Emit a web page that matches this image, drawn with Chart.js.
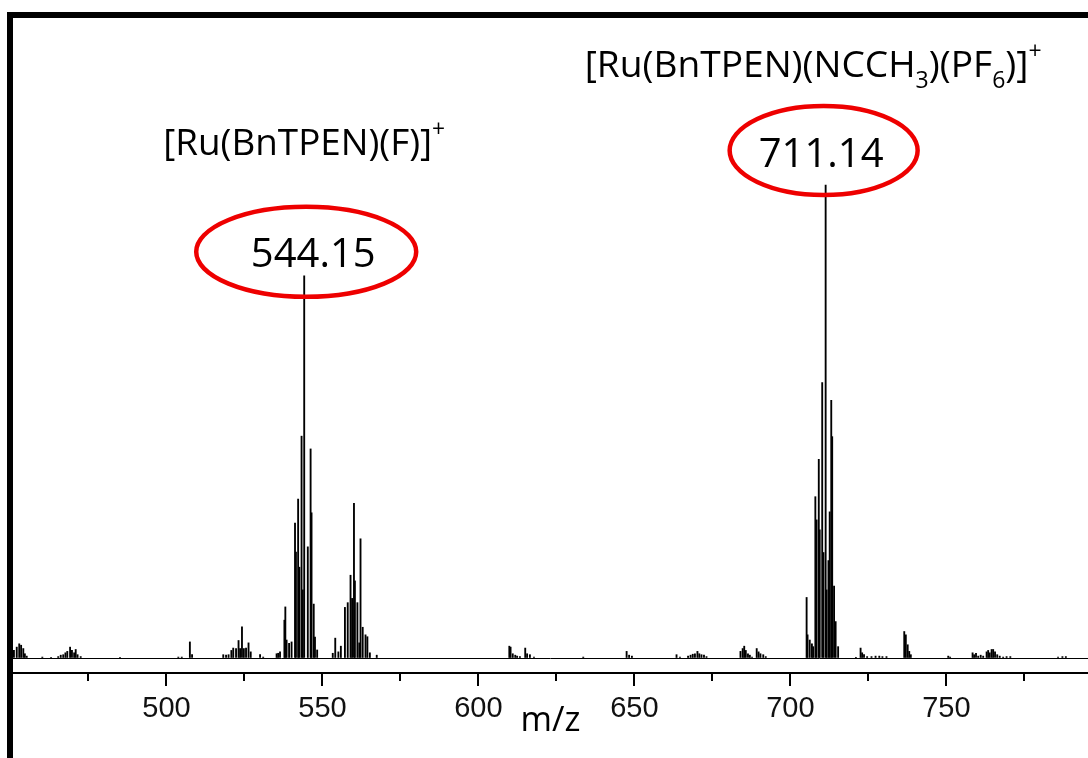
<!DOCTYPE html>
<html>
<head>
<meta charset="utf-8">
<script src="https://cdn.jsdelivr.net/npm/chart.js@4.4.1/dist/chart.umd.min.js"></script>
<style>
  html, body { margin: 0; padding: 0; background: #fff; }
  canvas { display: block; }
</style>
</head>
<body>
<canvas id="ms" width="1088" height="758"></canvas>
<script>
// ESI-MS of the Ru complex — relative intensity, base peak (711) = 100
// [m/z, intensity], grouped by region

const NOISE_LOW = [
  [451.1, 1.6], [452.0, 2.3], [452.8, 3.0], [453.4, 2.7], [454.1, 2.0], [454.6, 0.9], [455.2, 0.4],
  [460.2, 0.2], [463.0, 0.15], [465.3, 0.3], [466.1, 0.6], [466.9, 0.7], [467.6, 1.1], [468.2, 1.4],
  [469.1, 2.3], [469.7, 1.6], [470.4, 1.1], [470.9, 1.8], [471.5, 0.7], [472.5, 0.3], [485.1, 0.15],
  [503.8, 0.2], [504.9, 0.2], [507.5, 3.4], [508.2, 0.7],
];
const CLUSTER_524 = [
  [518.2, 0.7], [519.1, 0.6], [519.9, 0.7], [520.8, 1.6], [521.4, 2.1], [522.3, 2.0], [523.1, 3.7],
  [523.6, 2.0], [524.2, 6.6], [524.8, 2.0], [525.5, 2.1], [526.3, 3.2], [527.0, 1.3], [530.0, 0.7],
  [531.0, 0.2], [535.3, 0.9],
];
const CLUSTER_544 = [
  [535.8, 1.0], [536.4, 1.3], [537.8, 8.0], [538.1, 10.8], [538.5, 3.8], [539.3, 3.1], [540.1, 3.4],
  [541.2, 28.5], [541.5, 22.4], [542.2, 33.6], [542.6, 19.2], [543.3, 46.9], [543.7, 14.4],
  [544.15, 80.8], [545.3, 23.5], [546.2, 44.2], [546.5, 30.7], [547.2, 11.4], [547.6, 4.4], [548.3, 1.7],
];
const CLUSTER_560 = [
  [553.3, 1.0], [554.1, 4.2], [555.1, 1.3], [555.9, 2.5], [557.2, 10.7], [558.1, 11.7], [559.0, 17.5],
  [559.5, 12.6], [560.1, 32.7], [560.4, 16.3], [561.2, 11.7], [561.8, 3.2], [562.2, 25.2], [562.9, 6.5],
  [563.8, 4.9], [564.4, 4.5], [565.2, 1.1], [567.4, 0.6],
];
const NOISE_MID = [
  [609.9, 2.5], [610.3, 2.3], [611.0, 0.9], [611.8, 0.6], [612.4, 0.4], [613.3, 0.3], [615.0, 2.1],
  [615.6, 0.9], [616.5, 0.7], [617.8, 0.2], [633.6, 0.2], [647.5, 1.4], [648.3, 0.6], [649.2, 0.4],
  [663.5, 0.7], [664.6, 0.2], [667.2, 0.4], [668.0, 0.6], [668.7, 0.8], [669.4, 0.9], [670.2, 1.4],
  [670.8, 0.9], [671.5, 0.7], [672.3, 0.6], [673.1, 0.3], [684.0, 1.4], [684.7, 2.0], [685.2, 2.5],
  [685.7, 1.6], [686.4, 0.9], [687.0, 0.6], [687.7, 0.2], [689.2, 2.0], [689.8, 1.3], [690.4, 0.9],
  [691.3, 0.7], [692.1, 0.3],
];
const CLUSTER_711 = [
  [705.2, 12.8], [705.5, 4.9], [706.2, 3.8], [706.9, 3.0], [707.3, 2.4], [708.0, 34.1], [708.4, 29.2],
  [709.1, 42.0], [709.4, 27.1], [710.2, 58.2], [710.6, 22.3], [711.3, 100], [711.6, 14.4], [712.2, 20.6],
  [712.6, 30.9], [713.1, 54.5], [713.4, 46.8], [714.0, 15.2], [714.5, 7.7], [715.3, 2.4],
];
const NOISE_HIGH = [
  [721.0, 0.15], [722.5, 2.1], [723.0, 1.1], [723.6, 0.7], [724.6, 0.3], [726.0, 0.3], [727.3, 0.4],
  [728.5, 0.4], [729.5, 0.3], [730.8, 0.3], [736.5, 5.6], [737.0, 4.9], [737.6, 2.8], [738.1, 1.4],
  [738.6, 0.7], [750.6, 0.4], [751.2, 0.2], [758.4, 1.1], [758.9, 0.7], [759.5, 1.0], [760.2, 0.4],
  [761.0, 0.6], [761.8, 0.4], [762.9, 1.3], [763.4, 1.6], [763.9, 1.1], [764.5, 1.8], [765.0, 1.8],
  [765.6, 1.3], [766.3, 0.7], [767.1, 0.4], [768.2, 0.2], [769.3, 0.3], [770.5, 0.3], [785.8, 0.2],
  [787.2, 0.3], [788.3, 0.3],
];

const X_TICKS = [500, 550, 600, 650, 700, 750];
const X_MINOR = [475, 525, 575, 625, 675, 725, 775];
const X_MIN = 450.8, X_MAX = 795.4;
const Y_MIN = -3.17, Y_MAX = 135.3;

// peak labels
const LABELS = [
  {
    mz: 544.15, value: '544.15',
    formula: [{ t: '[Ru(BnTPEN)(F)]' }, { t: '+', k: 'sup' }],
    // offsets from the peak apex, in px
    ell: { dx: 2, dy: -24, rx: 110, ry: 45 }, val: { dx: 9, dy: -9 },
    form: { dx: 0, dy: -121, w: 282 },
  },
  {
    mz: 711.3, value: '711.14',
    formula: [{ t: '[Ru(BnTPEN)(NCCH' }, { t: '3', k: 'sub' }, { t: ')(PF' }, { t: '6', k: 'sub' }, { t: ')]' }, { t: '+', k: 'sup' }],
    ell: { dx: -2, dy: -34.5, rx: 94, ry: 44.5 }, val: { dx: -4.5, dy: -18 },
    form: { dx: -12.5, dy: -108, w: 457 },
  },
];

const PEAKS = [].concat(NOISE_LOW, CLUSTER_524, CLUSTER_544, CLUSTER_560, NOISE_MID, CLUSTER_711, NOISE_HIGH);
const TEXT_FONT = '"Open Sans", "Noto Sans", sans-serif';

// ─── rich text (sub / superscript) ──────────────────────────
function runFont(size, k) {
  const s = k ? size * 0.62 : size;
  return `${s}px ${TEXT_FONT}`;
}
function richWidth(ctx, runs, size) {
  return runs.reduce((w, r) => { ctx.font = runFont(size, r.k); return w + ctx.measureText(r.t).width; }, 0);
}
function drawRich(ctx, runs, size, cx, baseline, targetW) {
  if (targetW) size = size * targetW / richWidth(ctx, runs, size);
  let x = cx - richWidth(ctx, runs, size) / 2;
  ctx.textAlign = 'left';
  ctx.textBaseline = 'alphabetic';
  runs.forEach(r => {
    ctx.font = runFont(size, r.k);
    const dy = r.k === 'sub' ? size * 0.3 : r.k === 'sup' ? -size * 0.48 : 0;
    ctx.fillText(r.t, x, baseline + dy);
    x += ctx.measureText(r.t).width;
  });
}

// ─── plugins ────────────────────────────────────────────────
// frame (left + top) and the major/minor tick marks under the axis
const framePlugin = {
  id: 'frame',
  afterDraw(chart) {
    const { ctx, chartArea: a, width, height, scales: { x } } = chart;
    ctx.save();
    ctx.fillStyle = '#000';
    ctx.fillRect(a.left - 6, a.top - 6, 6, height - a.top + 6);
    ctx.fillRect(a.left - 6, a.top - 6, width - a.left + 6, 6);
    ctx.strokeStyle = '#000';
    ctx.lineWidth = 2;
    const tick = (v, len) => {
      const px = Math.round(x.getPixelForValue(v));
      ctx.beginPath();
      ctx.moveTo(px, a.bottom);
      ctx.lineTo(px, a.bottom + len);
      ctx.stroke();
    };
    X_TICKS.forEach(v => tick(v, 13));
    X_MINOR.forEach(v => tick(v, 8));
    ctx.restore();
  },
};

const labelPlugin = {
  id: 'peakLabels',
  afterDraw(chart) {
    const { ctx, scales: { x, y } } = chart;
    ctx.save();
    LABELS.forEach(l => {
      const peak = PEAKS.find(p => p[0] === l.mz);
      const px = x.getPixelForValue(peak[0]);
      const py = y.getPixelForValue(peak[1]);

      ctx.fillStyle = '#000';
      drawRich(ctx, l.formula, 28, px + l.form.dx, py + l.form.dy, l.form.w);

      ctx.font = `40px ${TEXT_FONT}`;
      ctx.textAlign = 'center';
      ctx.textBaseline = 'alphabetic';
      ctx.fillText(l.value, px + l.val.dx, py + l.val.dy);

      ctx.strokeStyle = '#ee0000';
      ctx.lineWidth = 4.5;
      ctx.beginPath();
      ctx.ellipse(px + l.ell.dx, py + l.ell.dy, l.ell.rx, l.ell.ry, 0, 0, Math.PI * 2);
      ctx.stroke();
    });
    ctx.restore();
  },
};

// ─── chart ──────────────────────────────────────────────────
new Chart(document.getElementById('ms'), {
  type: 'bar',
  data: {
    datasets: [{
      label: 'Intensity',
      data: PEAKS.map(([mz, i]) => ({ x: mz, y: i })),
      backgroundColor: '#000',
      borderWidth: 0,
      barThickness: 1.2,
      grouped: false,
    }],
  },
  options: {
    responsive: false,
    animation: false,
    layout: { padding: { left: 13, top: 18, right: 0, bottom: 0 } },
    plugins: { legend: { display: false }, tooltip: { enabled: false } },
    scales: {
      x: {
        type: 'linear',
        min: X_MIN,
        max: X_MAX,
        offset: false,
        afterBuildTicks: s => { s.ticks = X_TICKS.map(v => ({ value: v })); },
        afterFit: s => { s.height = 85; },
        grid: { display: false },
        border: { display: true, color: '#000', width: 2 },
        ticks: {
          color: '#111',
          font: { family: '"Liberation Sans", Arial, sans-serif', size: 29 },
          padding: 11,
          maxRotation: 0,
          autoSkip: false,
        },
        title: {
          display: true,
          text: 'm/z',
          color: '#000',
          font: { family: TEXT_FONT, size: 34 },
          padding: { top: 0, bottom: 16 },
        },
      },
      y: {
        min: Y_MIN,
        max: Y_MAX,
        afterFit: s => { s.width = 0; },
        ticks: { display: false, stepSize: 50 },
        grid: {
          drawTicks: false,
          lineWidth: 1,
          color: c => (c.tick && c.tick.value === 0 ? '#000' : 'rgba(0,0,0,0)'),
        },
        border: { display: false },
      },
    },
  },
  plugins: [framePlugin, labelPlugin],
});
</script>
</body>
</html>
